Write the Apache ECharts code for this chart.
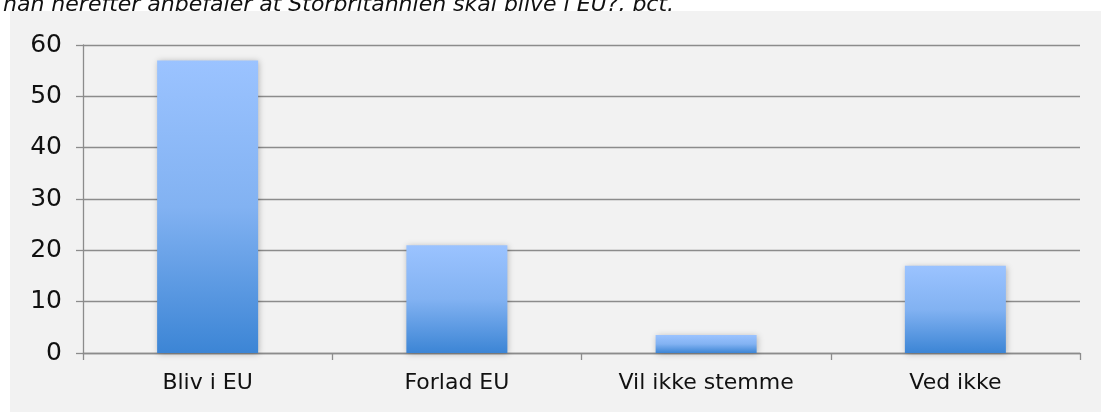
<!DOCTYPE html>
<html>
<head>
<meta charset="utf-8">
<script src="https://cdn.jsdelivr.net/npm/echarts@6/dist/echarts.min.js"></script>
<style>
html,body{margin:0;padding:0;background:#fff;}
#chart{width:1101px;height:412px;}
</style>
</head>
<body>
<div id="chart"></div>
<script>
const titleText = 'han herefter anbefaler at Storbritannien skal blive i EU?, pct.';
const categories = ['Bliv i EU', 'Forlad EU', 'Vil ikke stemme', 'Ved ikke'];
const values = [57, 21, 3.5, 17];
const yTicks = { min: 0, max: 60, interval: 10 };

const chart = echarts.init(document.getElementById('chart'), null, {renderer: 'canvas'});
const axisGray = '#8c8c8c';
const fontFam = '"DejaVu Sans", sans-serif';
chart.setOption({
  backgroundColor: '#ffffff',
  animation: false,
  title: {
    text: titleText,
    left: -2,
    top: -11,
    z: -200,
    textStyle: { fontFamily: fontFam, fontStyle: 'italic', fontWeight: 'normal', fontSize: 22, color: '#111', lineHeight: 22 }
  },
  graphic: [{
    type: 'rect', left: 10, top: 11, z: -100, silent: true,
    shape: { width: 1091, height: 401 },
    style: { fill: '#f2f2f2' }
  }],
  grid: { left: 83, right: 21, top: 45, bottom: 59, containLabel: false },
  xAxis: {
    type: 'category',
    data: categories,
    axisLine: { lineStyle: { color: axisGray, width: 1.3 } },
    axisTick: { show: true, alignWithLabel: false, length: 7, lineStyle: { color: axisGray, width: 1.3 } },
    axisLabel: { color: '#111', fontFamily: fontFam, fontSize: 22, margin: 19 }
  },
  yAxis: {
    type: 'value',
    min: yTicks.min, max: yTicks.max, interval: yTicks.interval,
    axisLine: { show: true, lineStyle: { color: axisGray, width: 1.3 } },
    axisTick: { show: true, length: 7, lineStyle: { color: axisGray, width: 1.3 } },
    splitLine: { show: true, lineStyle: { color: axisGray, width: 1.3 } },
    axisLabel: { color: '#111', fontFamily: fontFam, fontSize: 25, margin: 21 }
  },
  series: [{
    type: 'bar',
    data: values,
    barWidth: 101,
    itemStyle: {
      color: new echarts.graphic.LinearGradient(0, 0, 0, 1, [
        { offset: 0, color: '#9bc3ff' },
        { offset: 0.5, color: '#82b2f2' },
        { offset: 1, color: '#3c85d5' }
      ]),
      shadowBlur: 6,
      shadowColor: 'rgba(0,0,0,0.25)',
      shadowOffsetX: 1,
      shadowOffsetY: 1
    }
  }]
});
</script>
</body>
</html>
